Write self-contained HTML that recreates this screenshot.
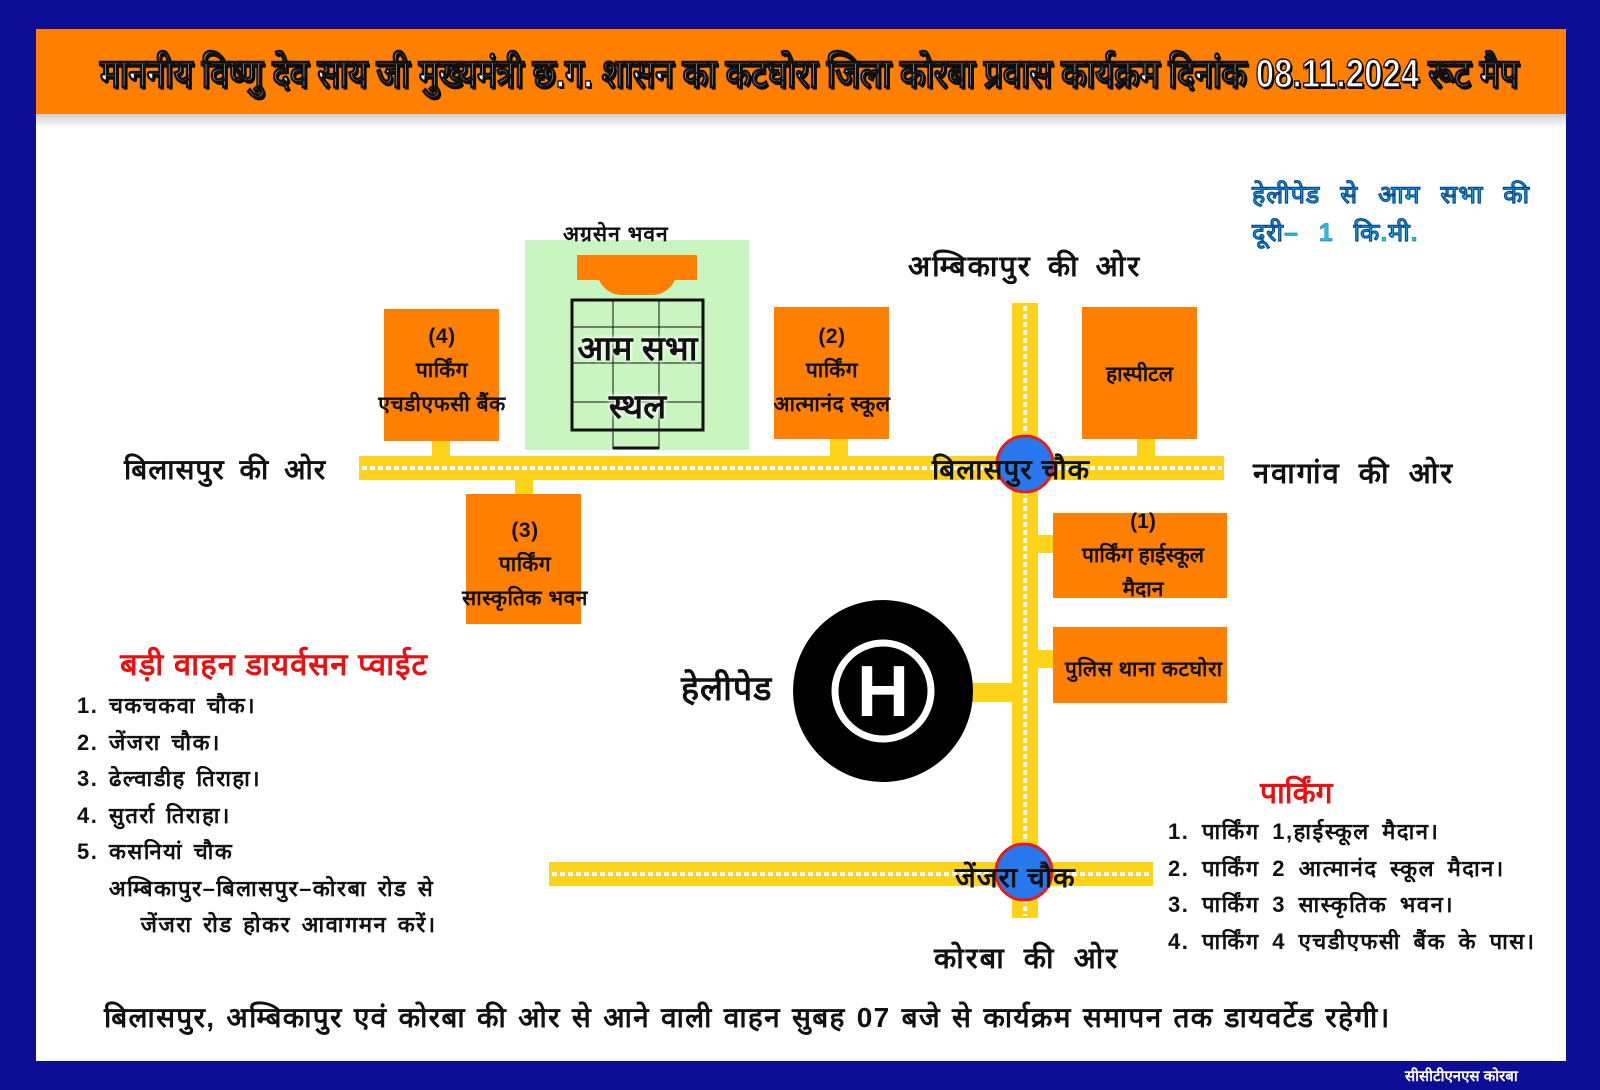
<!DOCTYPE html>
<html><head><meta charset="utf-8"><style>
body{margin:0;width:1600px;height:1090px;background:#0d0d96;position:relative;overflow:hidden;font-family:"Liberation Sans","Noto Sans CJK SC",sans-serif;}
.a{position:absolute;white-space:nowrap;}
.w{background:#fff;left:36px;top:29px;width:1530px;height:1032px;}
.hdr{left:36px;top:29px;width:1530px;height:85px;background:#ff7f00;}
.shd{left:36px;top:114px;width:1530px;height:14px;background:linear-gradient(#cfcfcf,#fff);}
.title{left:100px;top:44px;color:#fff;font-size:40px;font-weight:bold;-webkit-text-stroke:1.5px #111;text-shadow:2px 2px 0 #000;transform-origin:0 0;transform:scaleX(0.825);}
.ob{background:#ff7f00;}
.t{font-weight:bold;color:#111;transform-origin:0 0;}
.c{font-weight:bold;color:#111;text-align:center;}
</style></head><body>
<div class="a w"></div>
<div class="a hdr"></div>
<div class="a shd"></div>
<div class="a title">माननीय विष्णु देव साय जी  मुख्यमंत्री छ.ग. शासन का कटघोरा  जिला कोरबा प्रवास कार्यक्रम दिनांक  08.11.2024 रूट मैप</div>

<div class="a" style="left:525px;top:240px;width:224px;height:210px;background:#c8f5c0"></div>
<div class="a" style="left:577px;top:255px;width:120px;height:25px;background:#ff7f00"></div>
<div class="a" style="left:597px;top:270px;width:80px;height:25px;border-radius:0 0 40px 40px;background:#ff7f00"></div>
<svg class="a" style="left:0;top:0" width="1600" height="1090">
<g stroke="#111" fill="none">
<rect x="572" y="300" width="131" height="130" stroke-width="3"/>
<g stroke-width="1"><line x1="613" y1="300" x2="613" y2="430"/><line x1="659" y1="300" x2="659" y2="430"/>
<line x1="572" y1="327" x2="703" y2="327"/><line x1="572" y1="363" x2="703" y2="363"/><line x1="572" y1="402" x2="703" y2="402"/></g>
<path d="M613 430 V449 M659 430 V449" stroke-width="1"/><line x1="613" y1="448" x2="659" y2="448" stroke-width="3"/>
</g>
<rect x="359" y="456" width="865" height="24" fill="#ffd31a"/>
<line x1="362" y1="468" x2="1222" y2="468" stroke="#fff" stroke-width="4" stroke-dasharray="5,3"/>
<rect x="1012" y="303" width="26" height="615" fill="#ffd31a"/>
<line x1="1025" y1="306" x2="1025" y2="916" stroke="#fff" stroke-width="4" stroke-dasharray="5,3"/>
<rect x="549" y="862" width="604" height="24" fill="#ffd31a"/>
<line x1="552" y1="874" x2="1150" y2="874" stroke="#fff" stroke-width="4" stroke-dasharray="5,3"/>
<rect x="432" y="441" width="18" height="16" fill="#ffd31a"/>
<rect x="830" y="439" width="18" height="18" fill="#ffd31a"/>
<rect x="1137" y="439" width="18" height="18" fill="#ffd31a"/>
<rect x="515" y="480" width="18" height="14" fill="#ffd31a"/>
<rect x="1038" y="535" width="15" height="18" fill="#ffd31a"/>
<rect x="1038" y="650" width="15" height="18" fill="#ffd31a"/>
<rect x="972" y="683" width="40" height="19" fill="#ffd31a"/>
<circle cx="1025" cy="464" r="28" fill="#2a78f0" stroke="#e02020" stroke-width="3"/>
<circle cx="1024" cy="872" r="28" fill="#2a78f0" stroke="#e02020" stroke-width="3"/>
<ellipse cx="883" cy="691" rx="90" ry="91" fill="#000"/>
<circle cx="883" cy="691" r="48" fill="none" stroke="#fff" stroke-width="7"/>
<text x="883" y="716" text-anchor="middle" font-family="Liberation Sans" font-weight="bold" font-size="72" fill="#fff">H</text>
</svg>
<div class="a ob" style="left:384px;top:309px;width:115px;height:132px"></div>
<div class="a ob" style="left:774px;top:307px;width:115px;height:132px"></div>
<div class="a ob" style="left:1082px;top:307px;width:115px;height:132px"></div>
<div class="a ob" style="left:466px;top:494px;width:115px;height:130px"></div>
<div class="a ob" style="left:1053px;top:513px;width:174px;height:85px"></div>
<div class="a ob" style="left:1053px;top:627px;width:174px;height:76px"></div>

<div class="a c" style="left:352px;top:320px;width:180px;font-size:21px;line-height:34px;letter-spacing:0.5px">(4)<br>पार्किंग<br>एचडीएफसी बैंक</div>
<div class="a c" style="left:742px;top:320px;width:180px;font-size:21px;line-height:34px;letter-spacing:0.5px">(2)<br>पार्किंग<br>आत्मानंद स्कूल</div>
<div class="a c" style="left:1082px;top:360px;width:115px;font-size:21px">हास्पीटल</div>
<div class="a c" style="left:430px;top:514px;width:190px;font-size:21px;line-height:34px;letter-spacing:0.5px">(3)<br>पार्किंग<br>सास्कृतिक भवन</div>
<div class="a c" style="left:1053px;top:505px;width:180px;font-size:21px;line-height:34px">(1)<br>पार्किंग हाईस्कूल<br>मैदान</div>
<div class="a t" style="left:1065px;top:655px;font-size:21px;letter-spacing:0.5px">पुलिस थाना कटघोरा</div>

<div class="a t" style="left:563px;top:220px;font-size:21px;letter-spacing:1px">अग्रसेन भवन</div>
<div class="a c" style="left:555px;top:320px;width:165px;font-size:34px;line-height:58px;text-shadow:0 0 4px #fff,0 0 4px #fff">आम सभा<br>स्थल</div>
<div class="a t" style="left:908px;top:246px;font-size:29px;letter-spacing:2px;word-spacing:6px">अम्बिकापुर की ओर</div>
<div class="a t" style="left:124px;top:450px;font-size:28px;letter-spacing:1px;word-spacing:6px">बिलासपुर की ओर</div>
<div class="a t" style="left:1253px;top:453px;font-size:29px;letter-spacing:2px;word-spacing:8px">नवागांव की ओर</div>
<div class="a t" style="left:932px;top:450px;font-size:28px;letter-spacing:1px">बिलासपुर चौक</div>
<div class="a t" style="left:955px;top:858px;font-size:28px;letter-spacing:1px">जेंजरा चौक</div>
<div class="a t" style="left:934px;top:938px;font-size:29px;letter-spacing:2px;word-spacing:8px">कोरबा की ओर</div>
<div class="a t" style="left:681px;top:664px;font-size:34px;letter-spacing:1px">हेलीपेड</div>
<div class="a t" style="left:1252px;top:176px;font-size:25px;color:#18c4e8;line-height:38px;letter-spacing:1px;word-spacing:12px;-webkit-text-stroke:0.4px #0a4a90">हेलीपेड से आम सभा की<br>दूरी– 1 कि.मी.</div>

<div class="a t" style="left:120px;top:643px;font-size:31px;color:#e81010;letter-spacing:1px">बड़ी वाहन डायर्वसन प्वाईट</div>
<div class="a t" style="left:77px;top:688px;font-size:22px;line-height:36.5px;letter-spacing:1.5px;word-spacing:3px">1. चकचकवा चौक।<br>2. जेंजरा चौक।<br>3. ढेल्वाडीह तिराहा।<br>4. सुतर्रा तिराहा।<br>5. कसनियां चौक<br>&nbsp;&nbsp;&nbsp;अम्बिकापुर–बिलासपुर–कोरबा रोड से<br>&nbsp;&nbsp;&nbsp;&nbsp;&nbsp;&nbsp;जेंजरा रोड होकर आवागमन करें।</div>

<div class="a t" style="left:1260px;top:771px;font-size:30px;color:#e81010">पार्किंग</div>
<div class="a t" style="left:1168px;top:814px;font-size:22px;line-height:36.5px;letter-spacing:1.5px;word-spacing:5px">1. पार्किंग 1,हाईस्कूल मैदान।<br>2. पार्किंग 2 आत्मानंद स्कूल मैदान।<br>3. पार्किंग 3 सास्कृतिक भवन।<br>4. पार्किंग 4 एचडीएफसी बैंक के पास।</div>

<div class="a t" style="left:104px;top:998px;font-size:28px;letter-spacing:1.3px;word-spacing:2px">बिलासपुर, अम्बिकापुर एवं कोरबा की ओर से आने वाली वाहन सुबह 07 बजे से कार्यक्रम समापन तक डायवर्टेड रहेगी।</div>
<div class="a t" style="left:1405px;top:1066px;font-size:15px;color:#fff">सीसीटीएनएस कोरबा</div>
</body></html>
